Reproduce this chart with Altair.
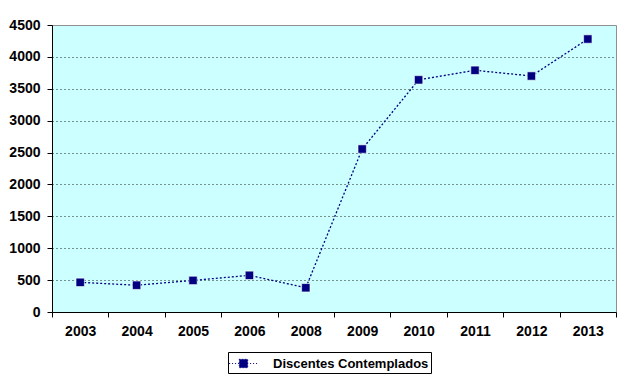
import altair as alt
import pandas as pd

years = ["2003", "2004", "2005", "2006", "2008", "2009", "2010", "2011", "2012", "2013"]
values = [465, 420, 495, 575, 380, 2555, 3640, 3790, 3700, 4280]
series = "Discentes Contemplados"

df = pd.DataFrame({"ano": years, "valor": values, "serie": [series] * len(years)})

FONT = "Liberation Sans"
NAVY = "#000080"
FS = 14

x = alt.X("ano:O", sort=years, title=None,
          scale=alt.Scale(paddingInner=0, paddingOuter=0),
          axis=alt.Axis(labelAngle=0, tickBand="extent", tickSize=5, labelPadding=7,
                        domainColor="#000", tickColor="#000", labelFont=FONT,
                        labelFontSize=FS, labelFontWeight="bold", labelColor="#000"))
y = alt.Y("valor:Q", title=None,
          scale=alt.Scale(domain=[0, 4500], nice=False),
          axis=alt.Axis(values=list(range(0, 4501, 500)), format="d", tickSize=5,
                        labelPadding=7, domainColor="#000", tickColor="#000",
                        labelFont=FONT, labelFontSize=FS, labelFontWeight="bold",
                        labelColor="#000",
                        grid=True, gridColor="#222", gridDash=[1, 3], gridWidth=1,
                        gridOpacity=alt.condition("datum.value == 4500 || datum.value == 0",
                                                  alt.value(0), alt.value(1))))

color = alt.Color("serie:N", scale=alt.Scale(range=[NAVY]), title=None,
                  legend=alt.Legend(orient="none", legendX=176, legendY=327,
                                    symbolType="M-1.6,0H1.6M-0.47,-0.47H0.47V0.47H-0.47Z",
                                    symbolSize=324, symbolStrokeColor=NAVY,
                                    symbolFillColor=NAVY, symbolStrokeWidth=1,
                                    symbolDash=[1, 2], symbolOffset=4,
                                    labelFont=FONT, labelFontSize=13,
                                    labelFontWeight="bold", labelColor="#000",
                                    labelLimit=400,
                                    strokeColor="#000", fillColor="#fff",
                                    padding=2, labelOffset=20))

line = alt.Chart(df).mark_line(strokeDash=[2, 2], strokeWidth=1.3, color=NAVY).encode(
    x=x, y=y, detail="serie:N")
pts = alt.Chart(df).mark_point(shape="square", filled=True, size=70, opacity=1,
                               stroke="#ffffff", strokeWidth=0.6).encode(
    x=x, y=y, color=color)

chart = alt.layer(line, pts).properties(
    width=564, height=287,
    autosize=alt.AutoSizeParams(type="none"),
    padding={"left": 44, "top": 17, "right": 16, "bottom": 65},
    background="#ffffff",
).configure_view(fill="#CCFFFF", stroke="#909090", strokeWidth=1)

chart.save("out.html", embed_options={"renderer": "svg", "actions": False})
